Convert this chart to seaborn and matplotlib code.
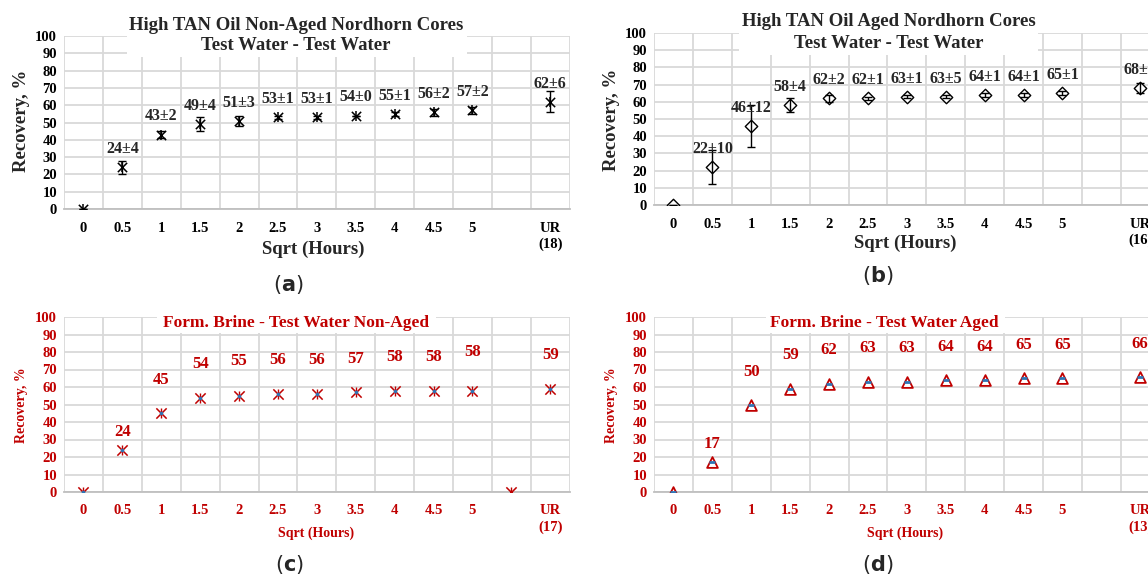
import numpy as np
import pandas as pd
import matplotlib
matplotlib.use("Agg")
import matplotlib.pyplot as plt
from matplotlib.patches import Rectangle
import seaborn as sns

# ---------------- data ----------------
sqrt_hours = ["0", "0.5", "1", "1.5", "2", "2.5", "3", "3.5", "4", "4.5", "5"]
ur_a, ur_b, ur_c, ur_d = "UR\n(18)", "UR\n(16)", "UR\n(17)", "UR\n(13)"

# (a) High TAN oil, non-aged, test water - test water
a_rec = [0, 24, 43, 49, 51, 53, 53, 54, 55, 56, 57]
a_err = [0, 4, 2, 4, 3, 1, 1, 0, 1, 2, 2]
a_ur, a_ur_err = 62, 6

# (b) High TAN oil, aged
b_rec = [0, 22, 46, 58, 62, 62, 63, 63, 64, 64, 65]
b_err = [0, 10, 12, 4, 2, 1, 1, 1, 1, 1, 1]          # error bars as drawn
b_err_text = [0, 10, 12, 4, 2, 1, 1, 5, 1, 1, 1]     # error as labelled
b_ur, b_ur_err = 68, 3

# (c) Formation brine - test water, non-aged
c_rec = [0, 24, 45, 54, 55, 56, 56, 57, 58, 58, 58]
c_extra = 0          # stray point in the empty slot
c_ur = 59

# (d) Formation brine - test water, aged
d_rec = [0, 17, 50, 59, 62, 63, 63, 64, 64, 65, 65]
d_ur = 66

# ---------------- style ----------------
sns.set_theme(style="white")
plt.rcParams["font.family"] = ["Liberation Serif", "DejaVu Serif"]
plt.rcParams["mathtext.fontset"] = "dejavusans"

W, H = 1148, 579
fig = plt.figure(figsize=(W / 100, H / 100), dpi=100)
fig.patch.set_facecolor("white")

RED = "#c00000"
BLUE = "#2e75b6"
GRID = "#d9d9d9"


def fx(p):
    return p / W


def fy(p):
    return 1 - p / H


def make_axes(left, top, bottom, color, tick_fs):
    width = 13 * 38.9
    ax = fig.add_axes([fx(left), fy(bottom), width / W, (bottom - top) / H])
    ax.set_xlim(-0.5, 12.5)
    ax.set_ylim(0, 100)
    ax.set_yticks(np.arange(0, 101, 10))
    ax.set_xticks(np.arange(-0.5, 13, 1), minor=True)
    ax.grid(True, which="major", axis="y", color=GRID, lw=1.3)
    ax.grid(True, which="minor", axis="x", color=GRID, lw=1.3)
    ax.grid(False, which="major", axis="x")
    for s in ["top", "right", "left"]:
        ax.spines[s].set_visible(False)
    ax.spines["bottom"].set_color("#bfbfbf")
    ax.spines["bottom"].set_linewidth(1.3)
    ax.tick_params(axis="both", which="both", length=0)
    ax.tick_params(axis="x", pad=9)
    ax.tick_params(axis="y", pad=5)
    ax.set_axisbelow(True)
    ax.set_yticklabels([str(v) for v in range(0, 101, 10)], fontsize=tick_fs,
                       fontweight="bold", color=color)
    return ax


def set_xcats(ax, ur_label, color, fs):
    ticks = list(range(11)) + [12]
    ax.set_xticks(ticks)
    ax.set_xticklabels(sqrt_hours + [ur_label], fontsize=fs,
                       fontweight="bold", color=color, linespacing=1.25)


def title_box(x0, x1, y0, y1):
    fig.patches.append(Rectangle((fx(x0), fy(y1)), (x1 - x0) / W, (y1 - y0) / H,
                                 transform=fig.transFigure, facecolor="white",
                                 edgecolor="none", zorder=5))


def ftext(x, y, s, **kw):
    kw.setdefault("ha", "center")
    kw.setdefault("va", "center")
    t = fig.text(fx(x), fy(y), s, **kw)
    t.set_zorder(6)
    return t


def panel_letter(x, y, letter):
    ftext(x, y, "(" + r"$\mathbf{" + letter + "}$" + ")", fontsize=15,
          family="DejaVu Sans")


xs = list(range(11))

# ================= (a) =================
ax = make_axes(64, 36, 209, "black", 10.5)
set_xcats(ax, ur_a, "black", 10.5)
ax_x = xs + [12]
ax_y = a_rec + [a_ur]
ax_e = a_err + [a_ur_err]
ax.errorbar(ax_x, ax_y, yerr=ax_e, fmt="none", ecolor="black", elinewidth=1,
            capsize=3, capthick=1, zorder=3)
sns.scatterplot(x=ax_x, y=ax_y, marker="x", s=45, color="black", linewidth=1.1,
                ax=ax, zorder=4)
sns.scatterplot(x=ax_x, y=ax_y, marker="|", s=45, color="black", linewidth=1.1,
                ax=ax, zorder=4)
for i, (v, e) in enumerate(zip(ax_y, ax_e)):
    if v == 0:
        continue
    ax.text(ax_x[i], v + 10.5, f"{v}±{e}", ha="center", va="center",
            fontsize=11.5, fontweight="bold", clip_on=False, zorder=4)
title_box(127, 467, 10, 57)
ftext(296, 25, "High TAN Oil Non-Aged Nordhorn Cores", fontsize=13.5, fontweight="bold")
ftext(296, 46, "Test Water - Test Water", fontsize=13.5, fontweight="bold")
ftext(313, 249, "Sqrt (Hours)", fontsize=13.5, fontweight="bold")
ftext(22, 121, "Recovery, %", fontsize=13.5, fontweight="bold", rotation=90)
panel_letter(288, 285, "a")

# ================= (b) =================
ax = make_axes(654, 33, 205, "black", 10.5)
set_xcats(ax, ur_b, "black", 10.5)
bx = xs + [12]
by = b_rec + [b_ur]
be = b_err + [b_ur_err]
bt = b_err_text + [b_ur_err]
sns.scatterplot(x=bx, y=by, marker="D", s=40, color="white", edgecolor="black",
                linewidth=1.0, ax=ax, zorder=3)
ax.errorbar(bx, by, yerr=be, fmt="none", ecolor="black", elinewidth=1,
            capsize=3, capthick=1, zorder=4)
for i, (v, e) in enumerate(zip(by, bt)):
    if v == 0:
        continue
    ax.text(bx[i], v + 10.5, f"{v}±{e}", ha="center", va="center",
            fontsize=11.5, fontweight="bold", clip_on=False, zorder=4)
title_box(739, 1038, 8, 55)
ftext(889, 21, "High TAN Oil Aged Nordhorn Cores", fontsize=13.5, fontweight="bold")
ftext(889, 43, "Test Water - Test Water", fontsize=13.5, fontweight="bold")
ftext(905, 243, "Sqrt (Hours)", fontsize=13.5, fontweight="bold")
ftext(611, 120, "Recovery, %", fontsize=13.5, fontweight="bold", rotation=90)
panel_letter(878, 276, "b")

# ================= (c) =================
ax = make_axes(64, 317, 492, RED, 10.5)
set_xcats(ax, ur_c, RED, 10.5)
cx = xs + [11, 12]
cy = c_rec + [c_extra, c_ur]
sns.scatterplot(x=cx, y=cy, marker="x", s=55, color=RED, linewidth=1.1, ax=ax, zorder=3)
sns.scatterplot(x=cx, y=cy, marker="|", s=55, color=RED, linewidth=1.0, ax=ax, zorder=3)
sns.scatterplot(x=xs + [12], y=c_rec + [c_ur], marker="o", s=7, color=BLUE,
                linewidth=0, ax=ax, zorder=4)
c_off = [None, 10, 19, 19, 20, 19.5, 19.5, 19, 19, 19, 22, 19.5]
for xi, v, off in zip(xs + [12], c_rec + [c_ur], c_off):
    if off is None:
        continue
    ax.text(xi, v + off, f"{v}", ha="center", va="center", fontsize=12,
            fontweight="bold", color=RED, clip_on=False, zorder=4)
title_box(157, 436, 312, 333)
ftext(296, 323, "Form. Brine - Test Water Non-Aged", fontsize=12.5,
      fontweight="bold", color=RED)
ftext(316, 533, "Sqrt (Hours)", fontsize=10, fontweight="bold", color=RED)
ftext(22, 405, "Recovery, %", fontsize=10, fontweight="bold", color=RED, rotation=90)
panel_letter(289, 565, "c")

# ================= (d) =================
ax = make_axes(654, 317, 492, RED, 10.5)
set_xcats(ax, ur_d, RED, 10.5)
dx = xs + [12]
dy = d_rec + [d_ur]
sns.scatterplot(x=dx, y=dy, marker="^", s=60, color="white", edgecolor=RED,
                linewidth=1.3, ax=ax, zorder=3)
sns.scatterplot(x=dx, y=dy, marker="_", s=25, color=BLUE, linewidth=2.0,
                ax=ax, zorder=4)
d_off = [None, 10.4, 18.7, 19.4, 19, 19, 19, 19, 19, 19, 19, 18.8]
for xi, v, off in zip(dx, dy, d_off):
    if off is None:
        continue
    ax.text(xi, v + off, f"{v}", ha="center", va="center", fontsize=12,
            fontweight="bold", color=RED, clip_on=False, zorder=4)
title_box(766, 1005, 312, 333)
ftext(884, 323, "Form. Brine - Test Water Aged", fontsize=12.5,
      fontweight="bold", color=RED)
ftext(905, 533, "Sqrt (Hours)", fontsize=10, fontweight="bold", color=RED)
ftext(611, 405, "Recovery, %", fontsize=10, fontweight="bold", color=RED, rotation=90)
panel_letter(878, 565, "d")

fig.savefig("out.png", dpi=100, facecolor="white")
